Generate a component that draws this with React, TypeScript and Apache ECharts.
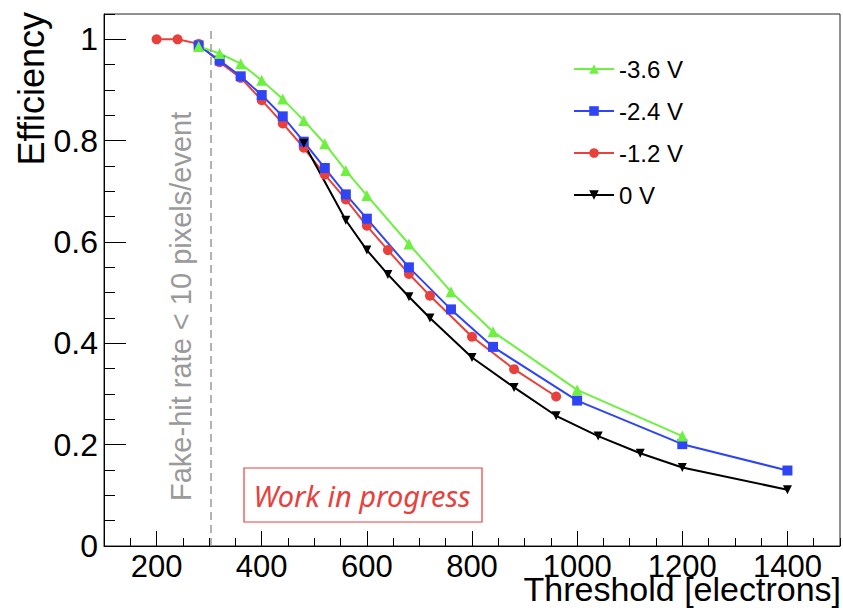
import React, { useEffect, useRef } from "react";
import * as echarts from "echarts";

// ---- data ----
const seriesNames = ["-3.6 V", "-2.4 V", "-1.2 V", "0 V"];

const thrM36 = [280, 320, 360, 400, 440, 480, 520, 560, 600, 680, 760, 840, 1000, 1200];
const effM36 = [0.986, 0.972, 0.952, 0.919, 0.882, 0.84, 0.794, 0.741, 0.692, 0.596, 0.502, 0.423, 0.308, 0.217];

const thrM24 = [280, 320, 360, 400, 440, 480, 520, 560, 600, 680, 760, 840, 1000, 1200, 1400];
const effM24 = [0.988, 0.958, 0.927, 0.89, 0.848, 0.798, 0.746, 0.694, 0.646, 0.55, 0.467, 0.393, 0.287, 0.201, 0.149];

const thrM12 = [200, 240, 280, 320, 360, 400, 440, 480, 520, 560, 600, 640, 680, 720, 800, 880, 960];
const effM12 = [1.0, 1.0, 0.991, 0.955, 0.924, 0.88, 0.834, 0.786, 0.733, 0.684, 0.632, 0.584, 0.537, 0.494, 0.413, 0.349, 0.295];

const thr0 = [480, 560, 600, 640, 680, 720, 800, 880, 960, 1040, 1120, 1200, 1400];
const eff0 = [0.795, 0.643, 0.584, 0.536, 0.492, 0.45, 0.372, 0.313, 0.257, 0.217, 0.183, 0.155, 0.111];

const xMin = 100;
const xMax = 1500;
const yMin = 0;
const yMax = 1.05;
const fakeHitThreshold = 303;
const fakeHitLineTop = 1.02;

const colors = { m36: "#6ef040", m24: "#2f45f5", m12: "#e8413c", v0: "#000000" };
const FONT = "Liberation Sans, Arial, Helvetica, sans-serif";

const zip = (xs: number[], ys: number[]) => xs.map((x, i) => [x, ys[i]]);

export default function App() {
  const ref = useRef<HTMLDivElement>(null);
  useEffect(() => {
    if (!ref.current) return;
    const chart = echarts.init(ref.current, undefined, { renderer: "svg" });
    const lineBase = (name: string, color: string, data: number[][], symbol: string, size: number, extra: any = {}) => ({
      name,
      type: "line",
      data,
      symbol,
      symbolSize: size,
      showAllSymbol: true,
      lineStyle: { color, width: 2 },
      itemStyle: { color, borderWidth: 0 },
      xAxisIndex: 0,
      yAxisIndex: 0,
      ...extra,
    });
    chart.setOption({
      animation: false,
      backgroundColor: "#ffffff",
      textStyle: { fontFamily: FONT },
      grid: {
        left: 104,
        right: 3,
        top: 14,
        bottom: 62,
        show: true,
        borderColor: "#222",
        borderWidth: 1,
        backgroundColor: "transparent",
      },
      legend: {
        data: seriesNames,
        orient: "vertical",
        left: 568,
        top: 52,
        itemWidth: 40,
        itemHeight: 12,
        itemGap: 18,
        textStyle: { fontSize: 24, color: "#000", fontFamily: FONT },
      },
      xAxis: [
        {
          type: "value",
          min: xMin,
          max: xMax,
          splitNumber: 7,
          position: "bottom",
          axisLine: { show: true, lineStyle: { color: "#000", width: 1 } },
          axisTick: { show: true, inside: true, length: 15, lineStyle: { color: "#000" } },
          axisLabel: {
            fontSize: 31,
            lineHeight: 22,
            color: "#000",
            margin: 9,
            showMinLabel: false,
            showMaxLabel: false,
            fontFamily: FONT,
            formatter: (v: number) => String(v),
          },
          splitLine: { show: false },
        },
        {
          type: "value",
          min: xMin,
          max: xMax,
          interval: 50,
          position: "bottom",
          axisLine: { show: false },
          axisTick: { show: true, inside: true, length: 8, lineStyle: { color: "#000" } },
          axisLabel: { show: false },
          splitLine: { show: false },
        },
      ],
      yAxis: [
        {
          type: "value",
          min: yMin,
          max: yMax,
          interval: 0.2,
          position: "left",
          axisLine: { show: true, lineStyle: { color: "#000", width: 1 } },
          axisTick: { show: true, inside: true, length: 22, lineStyle: { color: "#000" } },
          axisLabel: {
            fontSize: 32,
            color: "#000",
            margin: 6,
            showMaxLabel: false,
            fontFamily: FONT,
            formatter: (v: number) => String(v),
          },
          splitLine: { show: false },
        },
        {
          type: "value",
          min: yMin,
          max: yMax,
          interval: 0.05,
          position: "left",
          axisLine: { show: false },
          axisTick: { show: true, inside: true, length: 11, lineStyle: { color: "#000" } },
          axisLabel: { show: false },
          splitLine: { show: false },
        },
      ],
      series: [
        lineBase(seriesNames[2], colors.m12, zip(thrM12, effM12), "circle", 10, {
          markLine: {
            silent: true,
            symbol: ["none", "none"],
            label: { show: false },
            lineStyle: { color: "#999", type: [8, 5], width: 1.5 },
            data: [[{ coord: [fakeHitThreshold, yMin] }, { coord: [fakeHitThreshold, fakeHitLineTop] }]],
          },
        }),
        lineBase(seriesNames[1], colors.m24, zip(thrM24, effM24), "rect", 10),
        lineBase(seriesNames[0], colors.m36, zip(thrM36, effM36), "triangle", 11),
        lineBase(seriesNames[3], colors.v0, zip(thr0, eff0), "triangle", 9, { symbolRotate: 180 }),
      ],
      graphic: [
        {
          type: "text",
          x: 31,
          y: 12,
          rotation: Math.PI / 2,
          style: {
            text: "Efficiency",
            fontSize: 36,
            fontFamily: FONT,
            fill: "#000",
            textAlign: "right",
            textVerticalAlign: "middle",
          },
        },
        {
          type: "text",
          x: 841,
          y: 589,
          style: {
            text: "Threshold [electrons]",
            fontSize: 34,
            lineHeight: 22,
            fontFamily: FONT,
            fill: "#000",
            textAlign: "right",
            textVerticalAlign: "middle",
          },
        },
        {
          type: "text",
          x: 181,
          y: 501,
          rotation: Math.PI / 2,
          style: {
            text: "Fake-hit rate < 10 pixels/event",
            fontSize: 29,
            fontFamily: FONT,
            fill: "#9a9a9a",
            textAlign: "left",
            textVerticalAlign: "middle",
          },
        },
        {
          type: "rect",
          shape: { x: 244, y: 468, width: 238, height: 54 },
          style: { fill: "#fff", stroke: "#e8403c", lineWidth: 1.2 },
        },
        {
          type: "text",
          x: 362,
          y: 495,
          style: {
            text: "Work in progress",
            fontSize: 29,
            fontStyle: "italic",
            fontFamily: "Noto Sans, DejaVu Sans, sans-serif",
            fill: "#e8403c",
            textAlign: "center",
            textVerticalAlign: "middle",
          },
        },
      ],
    });
    return () => chart.dispose();
  }, []);
  return <div ref={ref} style={{ width: 843, height: 608, position: "absolute", left: 0, top: 0 }} />;
}
